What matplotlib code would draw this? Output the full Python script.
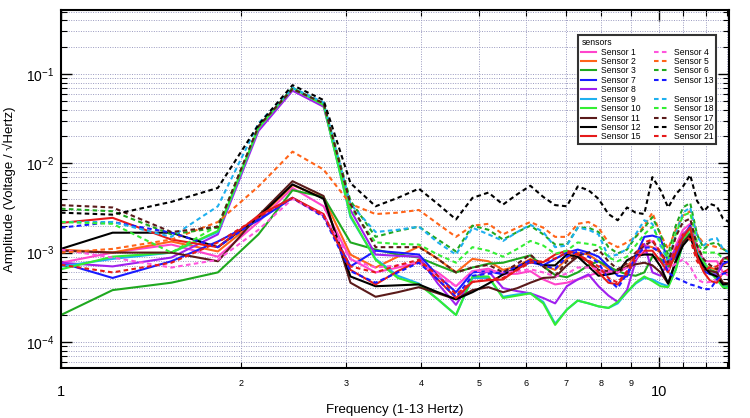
import matplotlib
matplotlib.use('Agg')
import matplotlib.pyplot as plt
from matplotlib.lines import Line2D
from matplotlib.ticker import LogLocator, FixedLocator, FixedFormatter, NullFormatter, LogFormatterSciNotation
import numpy as np

# 字体
plt.rcParams['font.family'] = ['Liberation Sans', 'DejaVu Sans']
plt.rcParams['mathtext.fontset'] = 'custom'
plt.rcParams['mathtext.rm'] = 'Liberation Sans'
plt.rcParams['mathtext.default'] = 'regular'

# 频率 (Hz)
freq = [1.00, 1.22, 1.53, 1.83, 2.14, 2.44, 2.75, 3.05, 3.36, 3.66, 3.97, 4.27, 4.58, 4.88,
        5.19, 5.49, 5.80, 6.10, 6.41, 6.71, 7.02, 7.32, 7.63, 7.93, 8.24, 8.54, 8.85, 9.15,
        9.46, 9.76, 10.07, 10.37, 10.68, 10.98, 11.29, 11.59, 11.90, 12.20, 12.51, 12.81, 13.11]

# 幅值, 单位 1e-3 V/sqrt(Hz)
s1 = [0.77, 1.0, 1.23, 0.9, 2.2, 5.3, 3.3, 0.85, 0.6, 0.68, 0.77, 0.6, 0.42, 0.62, 0.66, 0.57, 0.58,
      0.62, 0.5, 0.44, 0.46, 0.5, 0.55, 0.6, 0.6, 0.6, 0.68, 0.85, 1.0, 0.92, 0.8, 0.7, 1.2, 1.8,
      2.1, 1.2, 0.8, 0.8, 0.8, 0.6, 0.55]
s2 = [1.08, 1.0, 1.33, 1.03, 2.4, 5.7, 4.1, 0.95, 0.68, 0.9, 1.17, 0.85, 0.6, 0.85, 0.8, 0.64, 0.7,
      0.85, 0.72, 0.64, 0.85, 1.0, 0.95, 0.8, 0.65, 0.62, 0.7, 0.9, 1.2, 1.15, 1.0, 0.72, 1.1, 1.6,
      1.9, 1.1, 0.72, 0.68, 0.64, 0.72, 0.8]
s3 = [0.2, 0.38, 0.46, 0.6, 1.6, 5.0, 4.2, 1.3, 1.08, 0.95, 0.88, 0.72, 0.6, 0.68, 0.75, 0.77, 0.85,
      0.93, 0.7, 0.56, 0.53, 0.6, 0.72, 0.8, 0.7, 0.62, 0.57, 0.55, 0.6, 0.9, 0.85, 0.68, 0.9, 1.4,
      1.65, 0.95, 0.7, 0.64, 0.6, 0.42, 0.42]
s7 = [0.77, 0.52, 0.8, 1.33, 2.3, 4.1, 2.6, 0.7, 1.05, 1.0, 0.95, 0.55, 0.36, 0.6, 0.62, 0.57, 0.66,
      0.78, 0.72, 0.85, 1.0, 1.08, 1.0, 0.9, 0.7, 0.55, 0.54, 0.9, 1.5, 1.55, 1.45, 0.8, 0.9, 1.5,
      2.0, 1.0, 0.62, 0.57, 0.57, 0.75, 0.8]
s8 = [0.77, 0.7, 0.88, 1.6, 23, 65, 43, 3.0, 0.95, 0.92, 0.9, 0.45, 0.26, 0.52, 0.62, 0.4, 0.37,
      0.35, 0.31, 0.27, 0.42, 0.5, 0.57, 0.42, 0.33, 0.28, 0.38, 0.8, 1.25, 0.6, 0.55, 0.78, 1.1,
      1.6, 1.9, 1.0, 0.75, 0.6, 0.55, 0.85, 0.9]
s9 = [0.7, 0.85, 1.0, 1.7, 25, 70, 46, 2.5, 0.85, 0.55, 0.45, 0.3, 0.2, 0.52, 0.52, 0.32, 0.34,
      0.35, 0.28, 0.16, 0.23, 0.29, 0.27, 0.25, 0.24, 0.27, 0.36, 0.45, 0.52, 0.5, 0.45, 0.42, 0.65,
      1.3, 1.9, 1.0, 0.78, 0.6, 0.5, 0.42, 0.4]
s10 = [0.65, 0.9, 1.0, 1.75, 25, 70, 45, 2.6, 0.83, 0.52, 0.44, 0.3, 0.2, 0.54, 0.54, 0.31, 0.33,
       0.35, 0.27, 0.155, 0.23, 0.29, 0.27, 0.25, 0.24, 0.28, 0.36, 0.46, 0.54, 0.48, 0.42, 0.41, 0.64,
       1.3, 1.9, 0.95, 0.78, 0.6, 0.5, 0.41, 0.4]
s11 = [1.05, 1.0, 1.0, 0.8, 2.6, 6.3, 4.3, 0.46, 0.32, 0.36, 0.41, 0.35, 0.3, 0.38, 0.41, 0.36, 0.4,
       0.46, 0.52, 0.53, 0.72, 0.9, 0.8, 0.64, 0.62, 0.6, 0.7, 0.74, 0.77, 0.72, 0.6, 0.45, 0.8, 1.3,
       1.6, 0.9, 0.65, 0.62, 0.6, 0.46, 0.45]
s12 = [1.1, 1.67, 1.67, 1.15, 2.5, 5.8, 4.0, 0.54, 0.42, 0.43, 0.44, 0.36, 0.3, 0.36, 0.45, 0.57, 0.68,
       0.82, 0.72, 0.72, 0.95, 0.9, 0.7, 0.55, 0.57, 0.6, 0.82, 0.92, 0.95, 0.95, 0.7, 0.45, 0.8, 1.2,
       1.5, 0.95, 0.7, 0.58, 0.54, 0.44, 0.45]
s15 = [2.15, 2.45, 1.4, 1.15, 2.6, 4.1, 2.7, 0.64, 0.44, 0.62, 0.8, 0.5, 0.31, 0.47, 0.49, 0.5, 0.65,
       0.82, 0.78, 0.95, 1.05, 0.97, 0.78, 0.6, 0.46, 0.44, 0.58, 0.85, 1.05, 1.05, 0.8, 0.6, 1.0, 1.5,
       1.9, 0.9, 0.6, 0.48, 0.46, 0.6, 0.65]
s4 = [1.08, 0.88, 0.68, 0.83, 1.8, 4.0, 2.6, 0.84, 0.68, 0.72, 0.77, 0.55, 0.42, 0.62, 0.62, 0.6, 0.62,
      0.65, 0.6, 0.54, 0.58, 0.68, 0.68, 0.65, 0.62, 0.6, 0.68, 0.85, 1.1, 1.35, 0.95, 0.65, 0.75, 0.84,
      0.7, 0.5, 0.46, 0.47, 0.5, 0.6, 0.62]
s5 = [1.0, 1.1, 1.4, 2.2, 5.5, 13.5, 8.5, 3.5, 2.7, 2.8, 3.0, 2.1, 1.5, 2.0, 2.1, 1.6, 1.9,
      2.2, 1.9, 1.5, 1.5, 2.1, 2.2, 1.9, 1.3, 1.15, 1.3, 1.5, 2.0, 2.8, 1.6, 1.1, 1.8, 2.6,
      2.9, 1.6, 1.25, 1.2, 1.15, 1.1, 1.05]
s6 = [3.1, 2.9, 1.6, 1.9, 26, 68, 47, 3.8, 1.5, 1.75, 1.95, 1.4, 1.03, 2.0, 1.8, 1.4, 1.7,
      2.0, 1.6, 1.23, 1.23, 1.9, 1.9, 1.7, 1.15, 0.98, 1.08, 1.5, 1.9, 2.5, 1.6, 0.95, 2.0, 3.2,
      3.6, 1.6, 1.1, 1.25, 1.3, 1.1, 1.0]
s13 = [1.9, 2.2, 1.67, 1.15, 2.4, 4.1, 2.5, 0.62, 0.46, 0.6, 0.77, 0.5, 0.32, 0.55, 0.58, 0.6, 0.7,
       0.82, 0.72, 0.66, 0.9, 1.03, 0.9, 0.77, 0.5, 0.4, 0.58, 0.9, 1.14, 1.14, 1.0, 0.6, 0.52, 0.48,
       0.44, 0.42, 0.39, 0.39, 0.5, 0.58, 0.6]
s19 = [2.2, 2.2, 1.5, 3.3, 28, 70, 48, 3.5, 1.7, 1.8, 1.95, 1.3, 0.95, 1.9, 1.6, 1.35, 1.7,
       2.05, 1.7, 1.15, 1.2, 1.9, 1.8, 1.6, 0.9, 0.95, 1.1, 1.6, 2.3, 2.1, 1.2, 0.8, 1.6, 2.8,
       3.2, 1.5, 1.2, 1.4, 1.45, 1.1, 1.0]
s18 = [2.2, 2.1, 1.0, 2.0, 25, 68, 46, 3.2, 1.3, 1.25, 1.23, 0.95, 0.77, 1.15, 1.05, 0.9, 1.1,
       1.35, 1.2, 0.97, 1.05, 1.3, 1.25, 1.2, 0.88, 0.8, 0.9, 1.2, 1.6, 1.95, 1.3, 0.84, 1.6, 2.6,
       2.8, 1.3, 1.0, 1.0, 1.0, 0.86, 0.84]
s17 = [3.4, 3.2, 1.7, 1.95, 26, 68, 47, 3.5, 1.15, 1.15, 1.15, 0.85, 0.6, 0.68, 0.73, 0.6, 0.75,
       0.95, 0.7, 0.55, 0.8, 0.92, 1.0, 1.08, 0.8, 0.65, 0.76, 1.0, 1.2, 1.35, 1.0, 0.77, 1.5, 2.2,
       2.4, 1.2, 0.84, 0.72, 0.65, 0.85, 0.9]
s20 = [2.8, 2.66, 3.7, 5.3, 27, 75, 51, 6.0, 3.3, 4.1, 5.2, 3.5, 2.35, 4.1, 4.7, 3.45, 4.5,
       5.6, 4.2, 3.4, 3.3, 5.5, 5.0, 4.0, 2.7, 2.3, 3.2, 2.8, 2.7, 7.0, 5.0, 3.2, 4.5, 5.5,
       7.4, 3.8, 2.9, 3.5, 3.3, 2.4, 2.2]
s21 = [0.73, 0.6, 0.77, 1.3, 2.5, 4.1, 2.6, 0.7, 0.6, 0.72, 0.83, 0.55, 0.34, 0.47, 0.5, 0.52, 0.64,
       0.77, 0.8, 0.86, 1.0, 0.95, 0.82, 0.7, 0.52, 0.46, 0.62, 0.95, 1.3, 1.4, 1.0, 0.7, 1.1, 1.6,
       1.4, 0.8, 0.64, 0.68, 0.7, 0.84, 0.86]

# 名称, 数据, 颜色
solid = [('Sensor 1', s1, '#ff44cc'), ('Sensor 2', s2, '#ff6419'), ('Sensor 3', s3, '#1fa81f'),
         ('Sensor 7', s7, '#1a1aff'), ('Sensor 8', s8, '#a020ee'), ('Sensor 9', s9, '#1eb0ef'),
         ('Sensor 10', s10, '#33ee33'), ('Sensor 11', s11, '#5a1a1a'), ('Sensor 12', s12, '#000000'),
         ('Sensor 15', s15, '#e51a1a')]
dashed = [('Sensor 4', s4, '#ff55dd'), ('Sensor 5', s5, '#ff6419'), ('Sensor 6', s6, '#1fa81f'),
          ('Sensor 13', s13, '#1a1aff'), None, ('Sensor 19', s19, '#1eb0ef'),
          ('Sensor 18', s18, '#33ee33'), ('Sensor 17', s17, '#5a1a1a'), ('Sensor 20', s20, '#000000'),
          ('Sensor 21', s21, '#e51a1a')]

fig = plt.figure(figsize=(7.5, 4.18), dpi=100)
ax = fig.add_axes([0.0813, 0.1196, 0.8907, 0.8564])

f = np.array(freq)
handles = []
for name, vals, c in solid:
    h, = ax.plot(f, np.array(vals) * 1e-3, color=c, lw=1.5, label=name)
    handles.append(h)
for item in dashed:
    if item is None:
        # 图例第二列的空位
        handles.append(Line2D([], [], color='none', label=' '))
        continue
    name, vals, c = item
    h, = ax.plot(f, np.array(vals) * 1e-3, color=c, lw=1.5, ls=(0, (2.2, 1.6)), label=name)
    handles.append(h)

ax.set_xscale('log')
ax.set_yscale('log')
ax.set_xlim(1, 13.11)
ax.set_ylim(5.1e-5, 0.52)

# x轴刻度
ax.xaxis.set_major_locator(FixedLocator([1, 10]))
ax.xaxis.set_major_formatter(FixedFormatter(['1', '10']))
ax.xaxis.set_minor_locator(FixedLocator([2, 3, 4, 5, 6, 7, 8, 9, 11, 12, 13]))
ax.xaxis.set_minor_formatter(FixedFormatter(['2', '3', '4', '5', '6', '7', '8', '9', '', '', '']))
ax.tick_params(axis='x', which='major', direction='in', length=8, width=1, pad=12, labelsize=10.5, top=True)
ax.tick_params(axis='x', which='minor', direction='in', length=4, width=0.8, pad=8, labelsize=6.5, top=True)

# y轴刻度
ax.yaxis.set_major_locator(LogLocator(base=10, numticks=10))
ax.yaxis.set_major_formatter(LogFormatterSciNotation())
ax.yaxis.set_minor_locator(LogLocator(base=10, subs=np.arange(2, 10), numticks=20))
ax.yaxis.set_minor_formatter(NullFormatter())
ax.tick_params(axis='y', which='major', direction='in', length=8, width=1, pad=5, labelsize=10, right=True)
ax.tick_params(axis='y', which='minor', direction='in', length=4, width=0.8, right=True)

ax.grid(True, which='both', ls=(0, (1, 1.5)), color='#9a9ac0', lw=0.7)
for sp in ax.spines.values():
    sp.set_linewidth(1.5)

ax.set_xlabel('Frequency (1-13 Hertz)', fontsize=9.5, va='center')
ax.xaxis.set_label_coords(0.5, -0.117)
ax.set_ylabel('Amplitude (Voltage / \u221aHertz)', fontsize=9.5, va='center')
ax.yaxis.set_label_coords(-0.077, 0.5)

leg = ax.legend(handles=handles, ncol=2, loc='upper right', bbox_to_anchor=(0.981, 0.93),
                borderaxespad=0, fontsize=6.2, title='sensors', title_fontsize=6.2,
                alignment='left', labelspacing=0.05, handlelength=1.7, handletextpad=0.6,
                columnspacing=1.5, borderpad=0.35, fancybox=False, framealpha=1)
leg.get_frame().set_edgecolor('#333333')
leg.get_frame().set_linewidth(1.5)

fig.savefig('out.png', dpi=100)
